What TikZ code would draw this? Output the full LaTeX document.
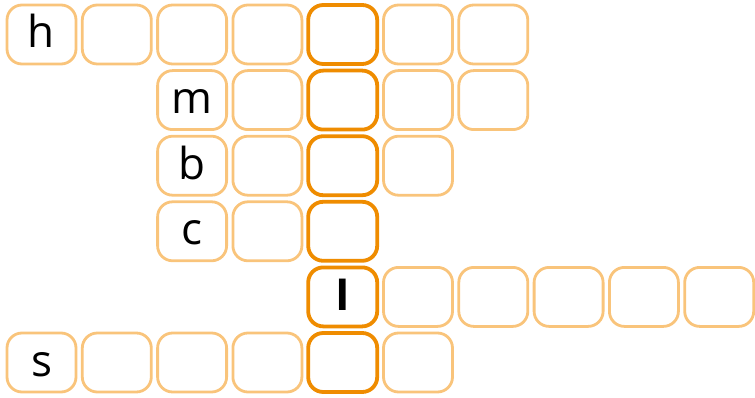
\documentclass[tikz,border=0pt]{standalone}
\usepackage{fontspec}
\setmainfont{Open Sans}
\definecolor{lightor}{HTML}{F9C47B}
\definecolor{darkor}{HTML}{EF8C00}
\tikzset{
  cell/.style={draw=lightor, line width=2.8pt, rounded corners=15pt, minimum width=69pt, minimum height=59pt, inner sep=0pt, text height=27pt, text depth=0pt, font=\fontsize{44}{52}\selectfont, fill=white},
  keycell/.style={cell, draw=darkor, line width=3.8pt},
}
\begin{document}
\begin{tikzpicture}[x=1pt, y=-1pt]
\useasboundingbox (0,0) rectangle (755,398);
\def\cx#1{41.5+75.3*#1}
\def\ry#1{34.5+65.6*#1}
% row 0
\node[cell] (r0c0) at ({\cx{0}},{\ry{0}}) {h};
\foreach \c in {1,2,3,5,6} \node[cell] (r0c\c) at ({\cx{\c}},{\ry{0}}) {};
% row 1
\node[cell] (r1c2) at ({\cx{2}},{\ry{1}}) {m};
\foreach \c in {3,5,6} \node[cell] (r1c\c) at ({\cx{\c}},{\ry{1}}) {};
% row 2
\node[cell] (r2c2) at ({\cx{2}},{\ry{2}}) {b};
\foreach \c in {3,5} \node[cell] (r2c\c) at ({\cx{\c}},{\ry{2}}) {};
% row 3
\node[cell] (r3c2) at ({\cx{2}},{\ry{3}}) {c};
\node[cell] (r3c3) at ({\cx{3}},{\ry{3}}) {};
% row 4
\foreach \c in {5,6,7,8,9} \node[cell] (r4c\c) at ({\cx{\c}},{\ry{4}}) {};
% row 5
\node[cell] (r5c0) at ({\cx{0}},{\ry{5}}) {s};
\foreach \c in {1,2,3,5} \node[cell] (r5c\c) at ({\cx{\c}},{\ry{5}}) {};
% key column
\foreach \r in {0,1,2,3,5} \node[keycell] (r\r c4) at ({\cx{4}},{\ry{\r}}) {};
\node[keycell, font=\fontsize{44}{52}\selectfont\bfseries] (r4c4) at ({\cx{4}},{\ry{4}}) {I};
\end{tikzpicture}
\end{document}
